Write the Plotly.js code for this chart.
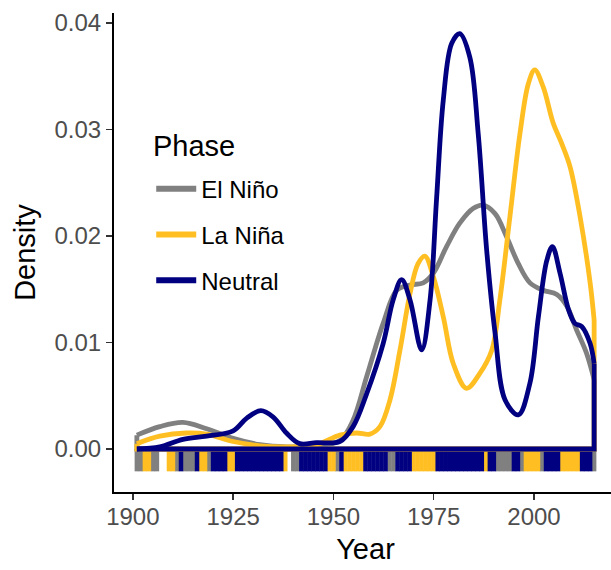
<!DOCTYPE html>
<html>
<head>
<meta charset="utf-8">
<script src="https://cdn.plot.ly/plotly-3.0.1.min.js"></script>
<style>
html, body { margin:0; padding:0; overflow:hidden; background:#fff; }
#chart { width:617px; height:570px; }
</style>
</head>
<body>
<div id="chart"></div>
<script>
// ---- Data ----
const phases = ["El Niño", "La Niña", "Neutral"];
const legendTitle = "Phase";

const elninoYear = [1901, 1906.7, 1912.5, 1918.4, 1925, 1931.7, 1938.3, 1945.8, 1951.6, 1954.9, 1958.3, 1962.4, 1965.8, 1969.1, 1972.4, 1974.9, 1978.2, 1981.5, 1984.9, 1987.3, 1990.3, 1993.2, 1996.1, 1999.0, 2002.3, 2005.7, 2008.2, 2010.6, 2013.1, 2015];
const elninoDensity = [0.0013, 0.0021, 0.0025, 0.0019, 0.0010, 0.0004, 0.0002, 0.0003, 0.0008, 0.0027, 0.0068, 0.0118, 0.0149, 0.0154, 0.0156, 0.0165, 0.0190, 0.0212, 0.0226, 0.0229, 0.0221, 0.0199, 0.0174, 0.0156, 0.0149, 0.0145, 0.0134, 0.0112, 0.0090, 0.0065];

const laninaYear = [1901, 1906.7, 1913.4, 1918.4, 1925, 1931.7, 1938.3, 1945.8, 1951.6, 1955.8, 1959.1, 1961.6, 1964.1, 1966.6, 1969.1, 1971.1, 1972.8, 1974.9, 1977.4, 1979.9, 1983.2, 1986.5, 1989.5, 1991.5, 1994.0, 1996.5, 1998.6, 2000.2, 2002.3, 2004.8, 2006.9, 2009.0, 2011.5, 2014.0, 2015];
const laninaDensity = [0.0005, 0.0012, 0.0015, 0.0014, 0.0007, 0.0003, 0.0002, 0.0004, 0.0013, 0.0015, 0.0014, 0.0021, 0.0046, 0.0093, 0.0146, 0.0174, 0.0181, 0.0162, 0.0124, 0.0080, 0.0057, 0.0071, 0.0093, 0.0140, 0.0218, 0.0296, 0.0343, 0.0356, 0.0340, 0.0306, 0.0287, 0.0265, 0.0218, 0.0156, 0.0121];

const neutralYear = [1901, 1906.7, 1912.5, 1918.4, 1925, 1928.4, 1931.9, 1935, 1938.3, 1941.6, 1945.8, 1951.6, 1954.9, 1958.3, 1962.4, 1964.9, 1967.0, 1969.1, 1972.0, 1974.1, 1975.7, 1977.4, 1979.5, 1981.5, 1984.0, 1986.1, 1988.2, 1990.3, 1992.8, 1996.1, 1999.0, 2001.1, 2003.2, 2004.6, 2006.5, 2008.6, 2010.2, 2011.9, 2014.0, 2015];
const neutralDensity = [0.0000, 0.0002, 0.0009, 0.0012, 0.0017, 0.0029, 0.0036, 0.0030, 0.0015, 0.0005, 0.0006, 0.0007, 0.0021, 0.0052, 0.0099, 0.0140, 0.0159, 0.0140, 0.0093, 0.0140, 0.0234, 0.0328, 0.0381, 0.0390, 0.0368, 0.0296, 0.0187, 0.0109, 0.0046, 0.0032, 0.0062, 0.0124, 0.0177, 0.0190, 0.0165, 0.0131, 0.0118, 0.0115, 0.0099, 0.0080];

// Rug: years by phase
const rugElNino = [1901, 1902, 1905, 1906, 1911, 1913, 1914, 1915, 1919, 1940, 1941, 1951, 1964, 1965, 1991, 1992, 1993, 1994, 1997, 2002, 2015];
const rugLaNina = [1903, 1904, 1909, 1910, 1917, 1918, 1924, 1925, 1938, 1949, 1950, 1953, 1954, 1955, 1956, 1957, 1970, 1971, 1972, 1973, 1974, 1975, 1988, 1998, 1999, 2000, 2001, 2007, 2008, 2009, 2010, 2011];
const rugNeutral = [1912, 1916, 1920, 1921, 1922, 1923, 1926, 1927, 1928, 1929, 1930, 1931, 1932, 1933, 1934, 1935, 1936, 1937, 1942, 1943, 1944, 1945, 1946, 1947, 1948, 1952, 1958, 1959, 1960, 1961, 1962, 1963, 1966, 1967, 1968, 1969, 1976, 1977, 1978, 1979, 1980, 1981, 1982, 1983, 1984, 1985, 1986, 1987, 1989, 1990, 1995, 1996, 2003, 2004, 2005, 2006, 2012, 2013, 2014];

const xTicks = [1900, 1925, 1950, 1975, 2000];
const yTicks = [0, 0.01, 0.02, 0.03, 0.04];

// ---- Styles ----
const colors = {"El Niño": "#808080", "La Niña": "#FFBF23", "Neutral": "#000080"};
const RUG_LEN = 0.0021;
const LW = 4.8;
const FONT = "Liberation Sans, Arial, Helvetica, sans-serif";

const series = [
  {name: "El Niño", x: elninoYear, y: elninoDensity, rug: rugElNino},
  {name: "La Niña", x: laninaYear, y: laninaDensity, rug: rugLaNina},
  {name: "Neutral", x: neutralYear, y: neutralDensity, rug: rugNeutral}
];

const traces = [];
// density outlines (drawn first, rug on top)
series.forEach(s => {
  const n = s.x.length;
  traces.push({
    type: "scatter", mode: "lines",
    x: [s.x[n-1], s.x[n-1], s.x[0], s.x[0]],
    y: [s.y[n-1], 0, 0, s.y[0]],
    line: {color: colors[s.name], width: LW, shape: "linear"},
    showlegend: false, hoverinfo: "skip"
  });
  traces.push({
    type: "scatter", mode: "lines", x: s.x, y: s.y, name: s.name,
    line: {color: colors[s.name], width: LW, shape: "spline", smoothing: 1},
    showlegend: false
  });
});
// rug bars
series.forEach(s => {
  traces.push({
    type: "bar", x: s.rug, y: s.rug.map(() => -RUG_LEN), base: 0, width: 1.12,
    marker: {color: colors[s.name], line: {width: 0}},
    showlegend: false, hoverinfo: "skip"
  });
});
// legend entries
series.forEach(s => {
  traces.push({
    type: "scatter", mode: "lines", x: [null], y: [null], name: s.name,
    legendgroup: s.name,
    line: {color: colors[s.name], width: 6},
    showlegend: true
  });
});

const layout = {
  width: 617, height: 570,
  margin: {l: 114, r: 0, t: 13, b: 78},
  paper_bgcolor: "#ffffff", plot_bgcolor: "#ffffff",
  font: {family: FONT, color: "#000"},
  barmode: "overlay",
  showlegend: true,
  legend: {
    x: 0.074, y: 0.679, xanchor: "left", yanchor: "top",
    bgcolor: "rgba(0,0,0,0)",
    font: {size: 24, color: "#000", family: FONT},
    tracegroupgap: 11.5,
    itemwidth: 40
  },
  annotations: [{
    text: legendTitle, xref: "paper", yref: "paper",
    x: 0.073, y: 0.7223, xanchor: "left", yanchor: "middle",
    showarrow: false, font: {size: 29, color: "#000", family: FONT}
  }],
  xaxis: {
    range: [1895.3, 2020.7], tickvals: xTicks, ticktext: xTicks.map(String),
    showgrid: false, zeroline: false, showline: true, linecolor: "#000", linewidth: 2,
    ticks: "outside", ticklen: 6, tickwidth: 1.5, tickcolor: "#333",
    tickfont: {size: 24, color: "#4D4D4D", family: FONT},
    ticklabelstandoff: -4,
    title: {text: "Year", font: {size: 29, color: "#000", family: FONT}, standoff: 10}
  },
  yaxis: {
    range: [-0.00404, 0.04094], tickvals: yTicks, tickformat: ".2f",
    showgrid: false, zeroline: false, showline: true, linecolor: "#000", linewidth: 2,
    ticks: "outside", ticklen: 6, tickwidth: 1.5, tickcolor: "#333",
    tickfont: {size: 24, color: "#4D4D4D", family: FONT},
    ticklabelstandoff: 0,
    title: {text: "Density", font: {size: 29, color: "#000", family: FONT}, standoff: 10}
  }
};

Plotly.newPlot("chart", traces, layout, {displayModeBar: false, staticPlot: true});
</script>
</body>
</html>
